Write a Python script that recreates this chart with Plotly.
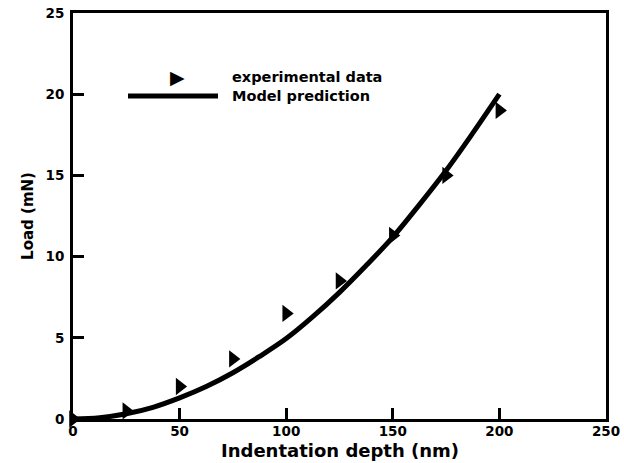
import plotly.graph_objects as go

# Experimental indentation measurements
exp_depth = [0, 25, 50, 75, 100, 125, 150, 175, 200]
exp_load = [0.0, 0.5, 2.0, 3.7, 6.5, 8.5, 11.3, 15.0, 19.0]

# Model prediction curve
model_depth = [0, 12.5, 25, 37.5, 50, 62.5, 75, 87.5, 100, 112.5, 125,
               137.5, 150, 162.5, 175, 187.5, 200]
model_load = [0.0, 0.08, 0.32, 0.72, 1.3, 2.0, 2.85, 3.85, 4.95, 6.3, 7.8,
              9.45, 11.2, 13.2, 15.3, 17.6, 20.0]

x_ticks = [0, 50, 100, 150, 200, 250]
y_ticks = [0, 5, 10, 15, 20, 25]

FONT = "DejaVu Sans"

fig = go.Figure()
fig.add_trace(go.Scatter(
    x=model_depth, y=model_load, mode="lines",
    line=dict(color="black", width=5, shape="spline"),
    name="Model prediction", showlegend=False, cliponaxis=False))
fig.add_trace(go.Scatter(
    x=exp_depth, y=exp_load, mode="markers",
    marker=dict(symbol="triangle-right", size=15, color="black"),
    name="experimental data", showlegend=False, cliponaxis=False))

axis_common = dict(
    showline=True, linecolor="black", linewidth=3, mirror=True,
    ticks="inside", ticklen=11, tickwidth=2.5, tickcolor="black",
    showgrid=False, zeroline=False, automargin=False,
    tickfont=dict(family=FONT, size=13.5, color="black", weight="bold"),
)

fig.update_xaxes(range=[0, 250], tickvals=x_ticks, ticklabelstandoff=-2,
                 **axis_common)
fig.update_yaxes(range=[0, 25], tickvals=y_ticks, ticklabelstandoff=3,
                 title=dict(text="Load (mN)", standoff=9,
                            font=dict(family=FONT, size=15, color="black", weight="bold")),
                 **axis_common)

# x-axis title placed just under the tick labels
fig.add_annotation(xref="paper", yref="paper", x=0.5, y=-(450 - 419) / 406,
                   xanchor="center", yanchor="middle", showarrow=False,
                   text="Indentation depth (nm)",
                   font=dict(family=FONT, size=18, color="black", weight="bold"))

# Hand-drawn legend block
fig.add_shape(type="line", xref="paper", yref="paper",
              x0=(128 - 73) / 533, x1=(218 - 73) / 533,
              y0=(419 - 96) / 406, y1=(419 - 96) / 406,
              line=dict(color="black", width=5))
fig.add_annotation(xref="paper", yref="paper", x=(177 - 73) / 533, y=(419 - 77) / 406,
                   xanchor="center", yanchor="middle",
                   text="\u25B6", showarrow=False,
                   font=dict(family=FONT, size=19, color="black"))
fig.add_annotation(xref="paper", yref="paper", x=(230 - 73) / 533, y=(419 - 77) / 406,
                   xanchor="left", yanchor="middle", text="experimental data", showarrow=False,
                   font=dict(family=FONT, size=14.5, color="black", weight="bold"))
fig.add_annotation(xref="paper", yref="paper", x=(230 - 73) / 533, y=(419 - 96) / 406,
                   xanchor="left", yanchor="middle", text="Model prediction", showarrow=False,
                   font=dict(family=FONT, size=14.5, color="black", weight="bold"))

fig.update_layout(
    width=624, height=463,
    margin=dict(l=73, r=18, t=13, b=44),
    plot_bgcolor="white", paper_bgcolor="white",
)

fig.write_html("out.html")
